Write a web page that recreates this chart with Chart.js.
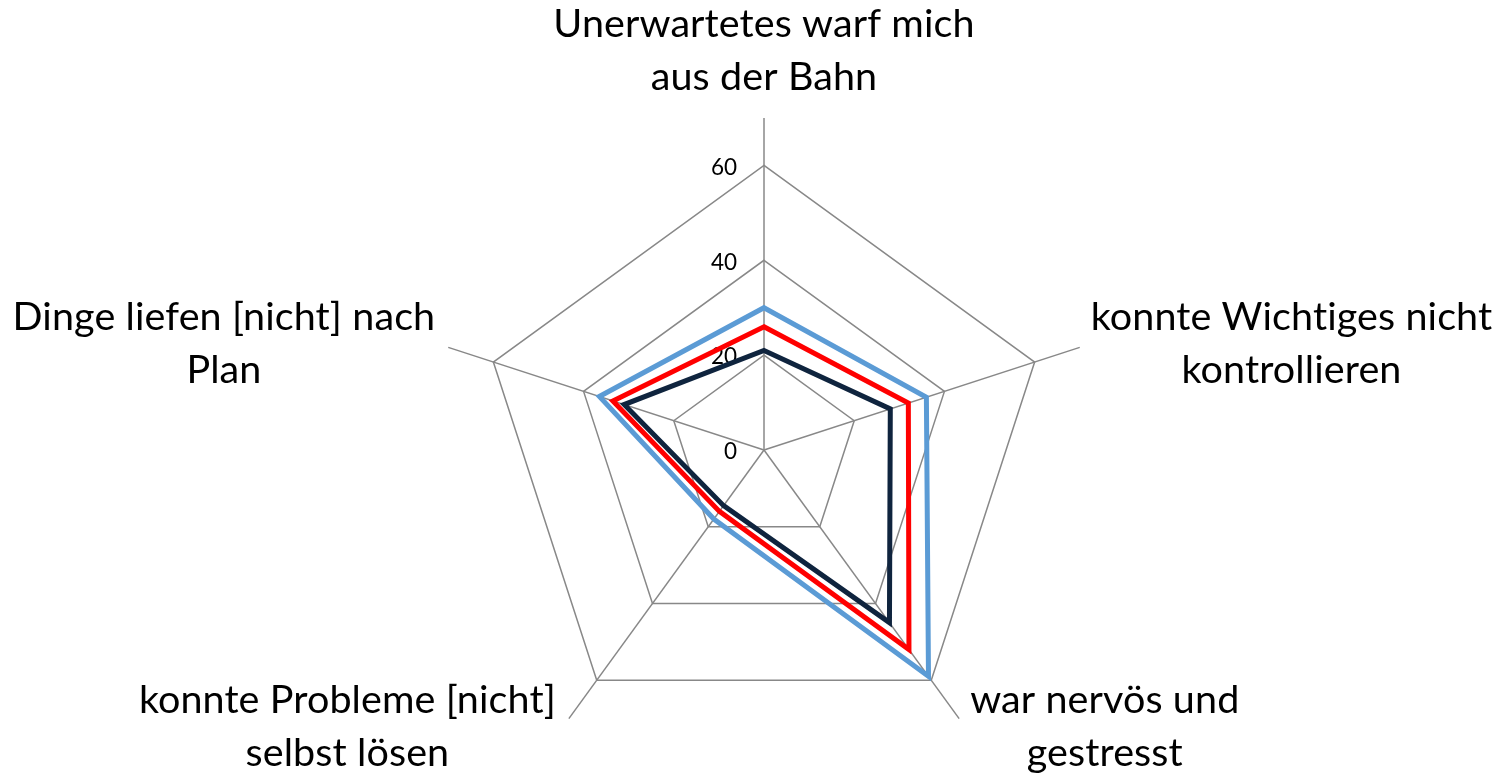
<!DOCTYPE html>
<html lang="de">
<head>
<meta charset="utf-8">
<title>Netzdiagramm</title>
<script src="https://cdn.jsdelivr.net/npm/chart.js@4.4.1/dist/chart.umd.min.js"></script>
<style>
  html, body { margin: 0; padding: 0; background: #fff; overflow: hidden; }
  #box { width: 1503px; height: 782px; position: relative; }
</style>
</head>
<body>
<div id="box"><canvas id="grafico"></canvas></div>
<script>
const kategorien = [
  ['Unerwartetes warf mich', 'aus der Bahn'],
  ['konnte Wichtiges nicht', 'kontrollieren'],
  ['war nervös und', 'gestresst'],
  ['konnte Probleme [nicht]', 'selbst lösen'],
  ['Dinge liefen [nicht] nach', 'Plan']
]
const reihe1 = [30, 36, 59, 18, 36.5]
const reihe2 = [26, 32, 52, 16, 33.5]
const reihe3 = [21, 28, 45, 14.5, 31]
const skalaTicks = [0, 20, 40, 60]
const skalaMax = 70

// tick labels sit left of the axis (0 included) and point labels are centred blocks
const beschriftung = {
  id: 'beschriftung',
  beforeDatasetsDraw(chart) {
    const r = chart.scales.r
    const ctx = chart.ctx
    ctx.save()
    ctx.font = '22.5px Lato'
    ctx.fillStyle = '#000'
    ctx.textAlign = 'right'
    ctx.textBaseline = 'middle'
    r.ticks.forEach(t => {
      const y = r.yCenter - r.getDistanceFromCenterForValue(t.value)
      ctx.fillText(t.label ?? String(t.value), r.xCenter - 27, y + 2)
    })
    ctx.restore()
  },
  afterDraw(chart) {
    const r = chart.scales.r
    const ctx = chart.ctx
    const zeile = 53
    ctx.save()
    ctx.font = '39.5px Lato'
    ctx.letterSpacing = '0.1px' // keeps "ti" from turning into a ligature
    ctx.fillStyle = '#000'
    ctx.textAlign = 'center'
    ctx.textBaseline = 'alphabetic'
    chart.data.labels.forEach((zeilen, i) => {
      const p = r.getPointPosition(i, r.drawingArea)
      const breite = Math.max(...zeilen.map(z => ctx.measureText(z).width))
      let x = p.x
      let y
      if (Math.abs(p.x - r.xCenter) < 1) {
        y = p.y - 28 - (zeilen.length - 1) * zeile
      } else {
        x = p.x > r.xCenter ? p.x + 11 + breite / 2 : p.x - 13 - breite / 2
        y = p.y < r.yCenter ? p.y - 17 : p.y - 6
      }
      zeilen.forEach((z, k) => ctx.fillText(z, x, y + k * zeile))
    })
    ctx.restore()
  }
}

const config = {
  type: 'radar',
  data: {
    labels: kategorien,
    datasets: [
      { label: 'Reihe1', data: reihe1, borderColor: '#5B9BD5' },
      { label: 'Reihe2', data: reihe2, borderColor: '#FF0000' },
      { label: 'Reihe3', data: reihe3, borderColor: '#0F243E' }
    ]
  },
  options: {
    responsive: true,
    maintainAspectRatio: false,
    animation: false,
    layout: { padding: { top: 118, bottom: 0, left: 25, right: 0 } },
    plugins: {
      legend: { display: false },
      tooltip: { enabled: false }
    },
    elements: {
      line: { borderWidth: 5, tension: 0, fill: false, borderJoinStyle: 'miter' },
      point: { radius: 0, hoverRadius: 0 }
    },
    scales: {
      r: {
        min: 0,
        max: skalaMax,
        afterBuildTicks: (scale) => {
          scale.ticks = skalaTicks.map(v => ({ value: v }))
        },
        ticks: { display: false, stepSize: 20 },
        grid: { color: '#888888', lineWidth: 1.5 },
        angleLines: { color: '#888888', lineWidth: 1.5 },
        pointLabels: { display: false }
      }
    }
  },
  plugins: [beschriftung]
}

const miGrafico = new Chart(document.getElementById('grafico'), config)
</script>
</body>
</html>
